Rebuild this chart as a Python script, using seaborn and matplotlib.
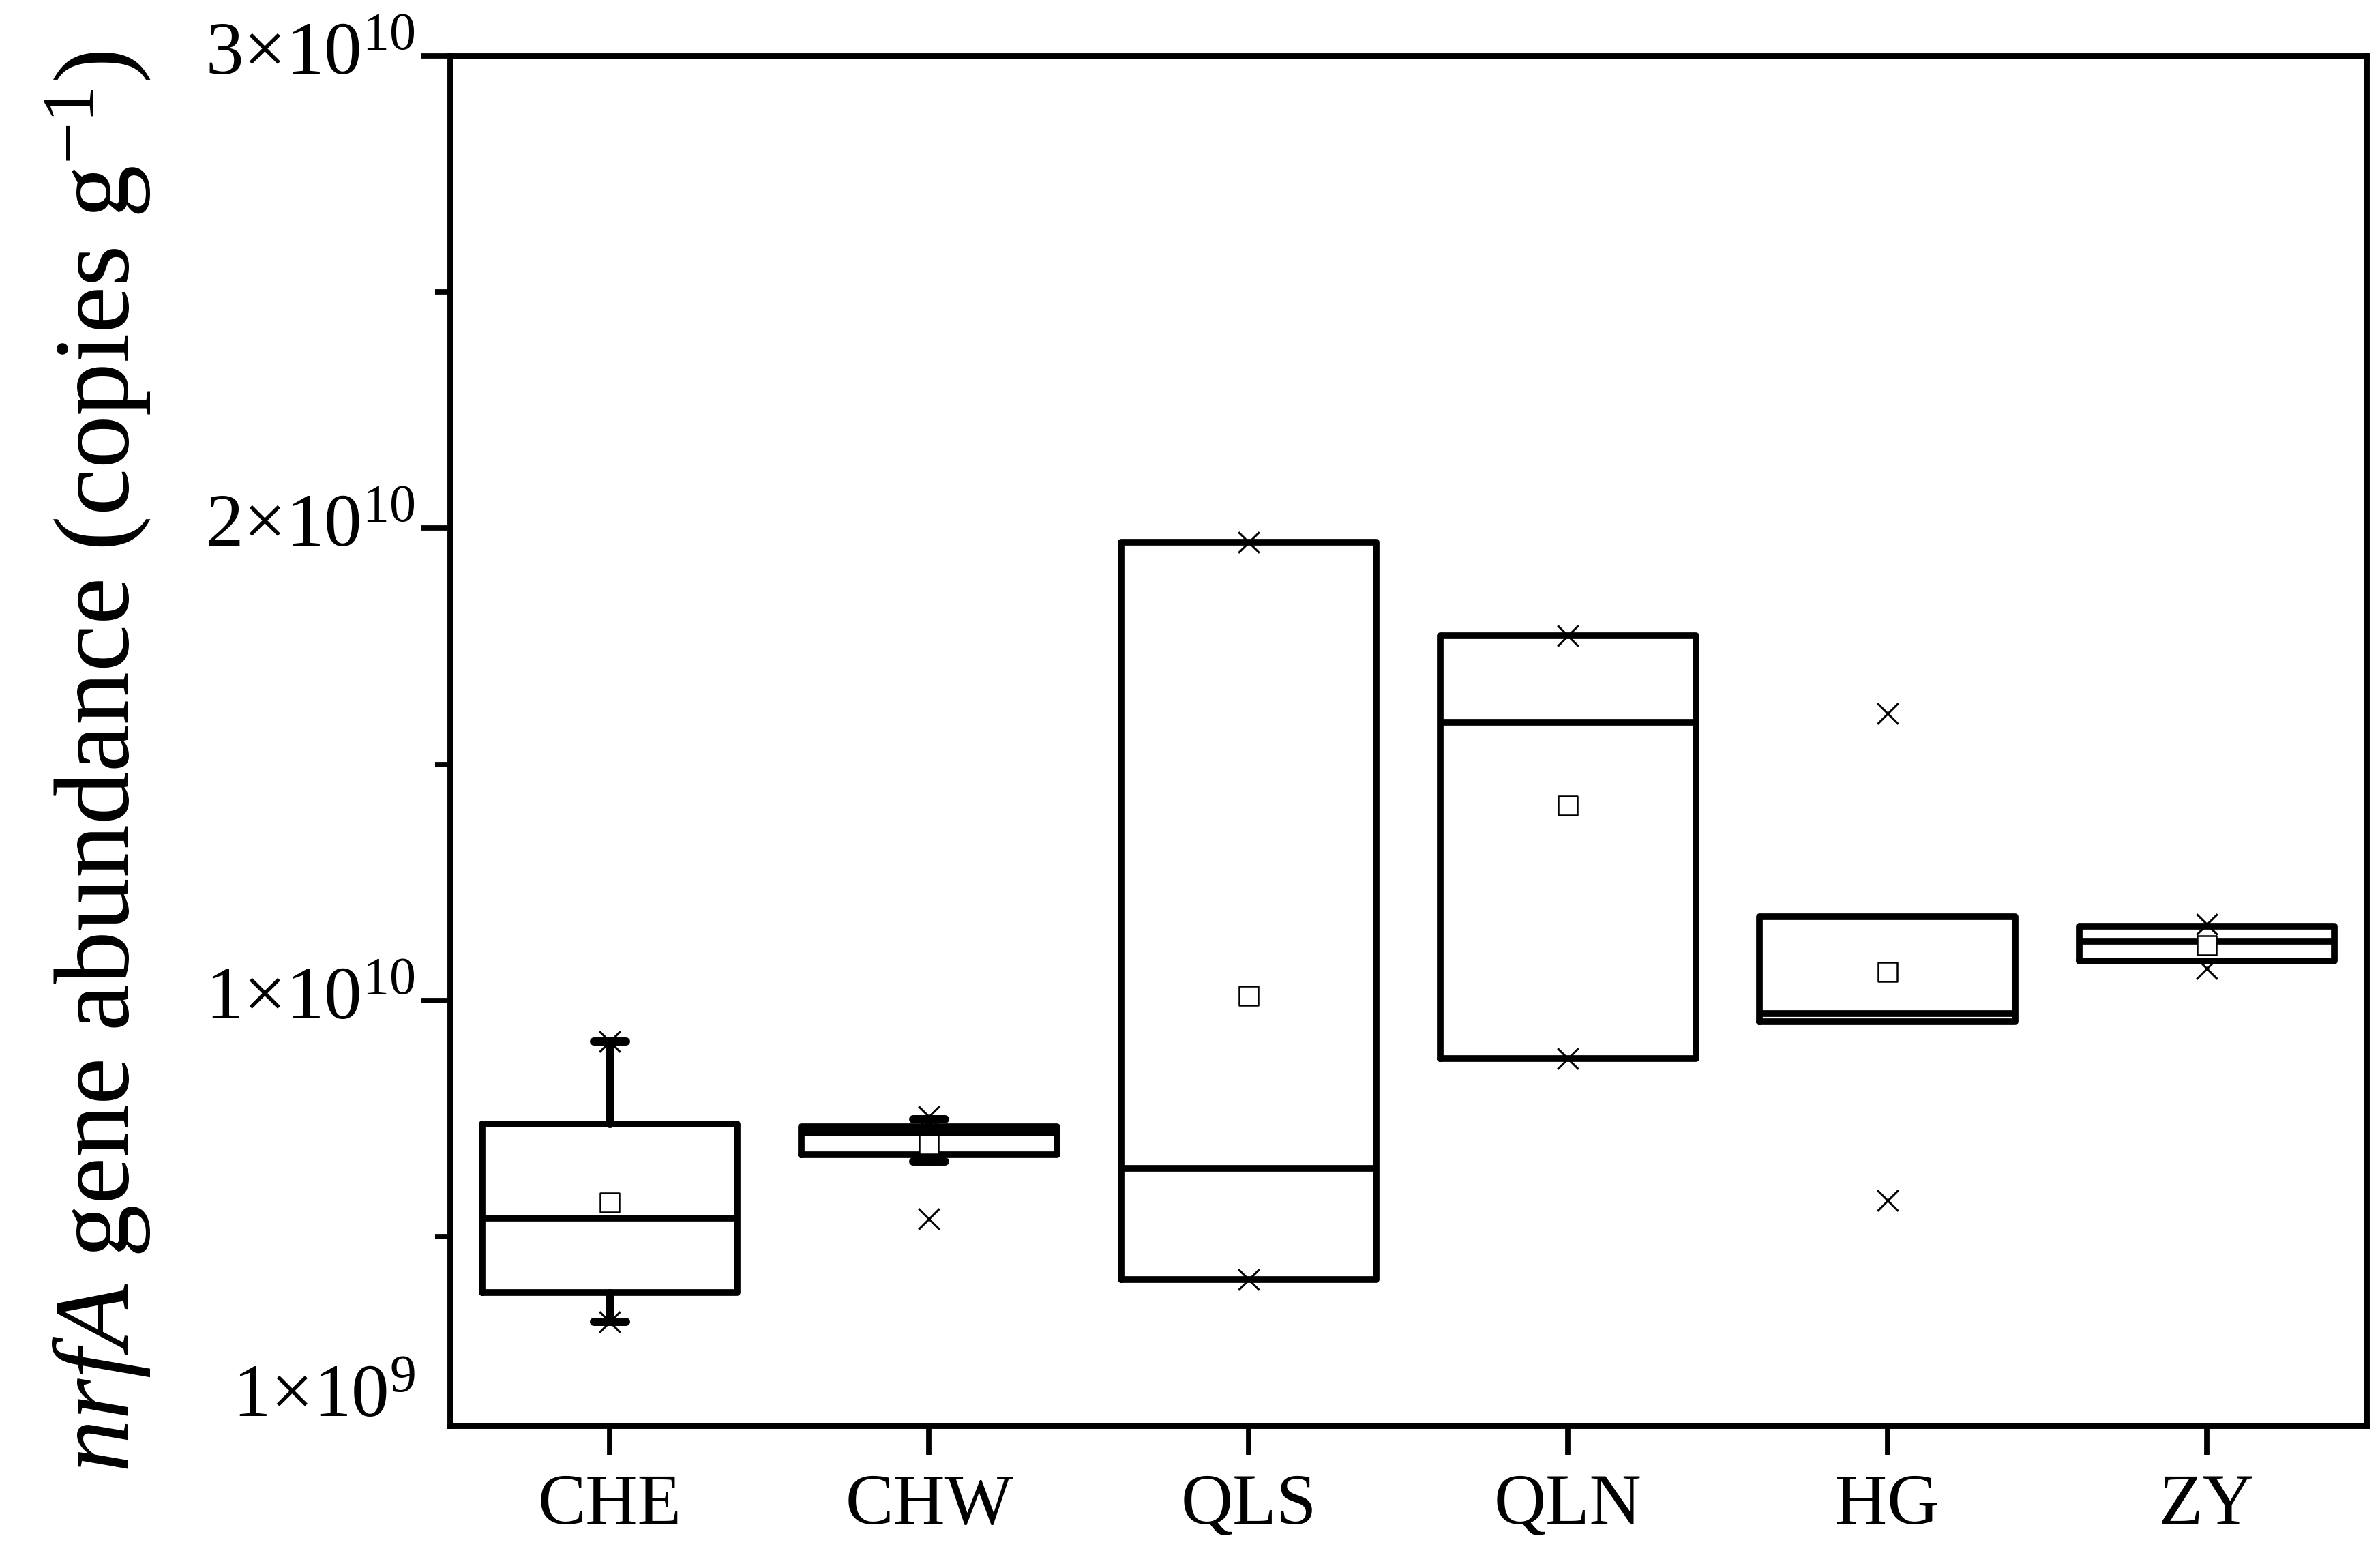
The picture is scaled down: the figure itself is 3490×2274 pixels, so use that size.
import numpy as np
import pandas as pd
import matplotlib
matplotlib.use("Agg")
import matplotlib.pyplot as plt
from matplotlib.transforms import ScaledTranslation
import seaborn as sns

# ---- data (copies per g, in units of 1e9) ----
sites = ["CHE", "CHW", "QLS", "QLN", "HG", "ZY"]
q1_vals = [3.81, 6.73, 4.09, 8.77, 9.55, 10.83]
median_vals = [5.39, 7.19, 6.45, 15.89, 9.72, 11.25]
q3_vals = [7.39, 7.33, 19.70, 17.73, 11.78, 11.57]
whislo_vals = [3.19, 6.59, 4.09, 8.77, 9.55, 10.83]
whishi_vals = [9.13, 7.48, 19.70, 17.73, 11.78, 11.57]
mean_vals = [5.72, 6.95, 10.10, 14.13, 10.61, 11.17]
min_vals = [3.19, 5.37, 4.09, 8.77, 5.77, 10.68]
max_vals = [9.13, 7.55, 19.70, 17.73, 16.08, 11.62]
unit = 1e9

ytick_vals = [1e9, 1e10, 2e10, 3e10]
ytick_labels = [r"$1{\times}10^{9}$", r"$1{\times}10^{10}$",
                r"$2{\times}10^{10}$", r"$3{\times}10^{10}$"]
yminor_vals = [5e9, 1.5e10, 2.5e10]

sns.set_theme(style="ticks")
plt.rcParams["font.family"] = ["Liberation Serif", "DejaVu Serif"]
plt.rcParams["mathtext.fontset"] = "custom"
plt.rcParams["mathtext.rm"] = "Liberation Serif"
plt.rcParams["mathtext.it"] = "Liberation Serif:italic"
plt.rcParams["mathtext.bf"] = "Liberation Serif:bold"
for k in ["text.color", "axes.labelcolor", "xtick.color", "ytick.color", "axes.edgecolor"]:
    plt.rcParams[k] = "black"

fig = plt.figure(figsize=(17.45, 11.37), dpi=200)
ax = fig.add_axes([0.1891, 0.0809, 0.8052, 0.8830])

df_ext = pd.DataFrame({"site": sites * 2,
                       "value": [v * unit for v in min_vals + max_vals]})
df_mean = pd.DataFrame({"site": sites, "value": [v * unit for v in mean_vals]})

sns.stripplot(data=df_ext, x="site", y="value", order=sites, jitter=False,
              marker="x", size=11, color="black", linewidth=1.1, zorder=5, ax=ax)
sns.stripplot(data=df_mean, x="site", y="value", order=sites, jitter=False,
              marker="s", size=10, color="white", edgecolor="black",
              linewidth=0.9, zorder=6, ax=ax)

stats = []
for i, s in enumerate(sites):
    stats.append(dict(label=s, med=median_vals[i] * unit, q1=q1_vals[i] * unit,
                      q3=q3_vals[i] * unit, whislo=whislo_vals[i] * unit,
                      whishi=whishi_vals[i] * unit, fliers=[]))

res = ax.bxp(stats, positions=list(range(len(sites))), widths=0.8, capwidths=0.1,
             showfliers=False, manage_ticks=False,
             boxprops=dict(color="black", linewidth=3.5, solid_joinstyle="round"),
             medianprops=dict(color="black", linewidth=3.5, solid_capstyle="butt"),
             whiskerprops=dict(color="black", linewidth=4.0),
             capprops=dict(color="black", linewidth=4.3, solid_capstyle="round"))
for i in range(len(sites)):
    if whislo_vals[i] == q1_vals[i]:
        res["caps"][2 * i].set_visible(False)
    if whishi_vals[i] == q3_vals[i]:
        res["caps"][2 * i + 1].set_visible(False)

ax.set_xlim(-0.5, len(sites) - 0.5)
ax.set_ylim(1e9, 3e10)
ax.set_yticks(ytick_vals, labels=ytick_labels)
ax.set_yticks(yminor_vals, minor=True)
ax.set_xlabel("")
ax.set_ylabel(r"$\mathit{nrfA}$ gene abundance (copies g$^{-1}$)", fontsize=56)
ax.yaxis.set_label_coords(-0.155, 0.485)

for sp in ax.spines.values():
    sp.set_visible(True)
    sp.set_linewidth(3.2)
    sp.set_color("black")

ax.tick_params(axis="both", which="both", direction="out", width=2.8,
               top=False, right=False)
ax.tick_params(axis="both", which="major", length=15.5)
ax.tick_params(axis="y", which="minor", length=8)
ax.tick_params(axis="x", labelsize=38, pad=10)
ax.tick_params(axis="y", labelsize=40, pad=3)
for lbl in ax.get_yticklabels():
    lbl.set_va("center")
ax.yaxis.get_major_ticks()[0].tick1line.set_visible(False)
lb0 = ax.get_yticklabels()[0]
lb0.set_transform(lb0.get_transform() + ScaledTranslation(0, 0.2, fig.dpi_scale_trans))
ax.grid(False)

fig.savefig("out.png", dpi=200, facecolor="white")
